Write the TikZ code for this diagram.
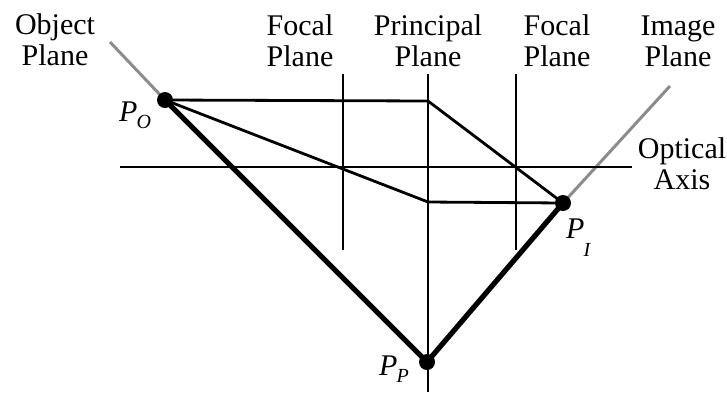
\documentclass[tikz,border=0pt]{standalone}
\usepackage{fontspec}
\setmainfont{Liberation Serif}
\newcommand\labsub[3]{\textit{#1}\kern-1pt\raisebox{-#3pt}{\fontsize{20}{20}\selectfont\textit{#2}}}
\begin{document}
\begin{tikzpicture}[x=1pt,y=-1pt,
  thin line/.style={line width=2.8pt},
  thick line/.style={line width=5.2pt,line cap=round},
  gray line/.style={line width=3pt,draw=black!45},
  dot/.style={circle,fill=black,inner sep=0pt,minimum size=16pt},
  lab/.style={font=\fontsize{30}{30.5}\selectfont,align=center,inner sep=0pt,anchor=north},
  plab/.style={font=\fontsize{30}{31}\selectfont,inner sep=0pt,anchor=base west}]
\useasboundingbox (0,0) rectangle (727,392);
% points
\coordinate (PO) at (165,100);
\coordinate (PI) at (563,203);
\coordinate (PP) at (427,362);
\coordinate (A) at (428,101);
\coordinate (B) at (428,202);
\coordinate (ObjEnd) at (110,42);
\coordinate (ImgEnd) at (670,86);
\coordinate (AxL) at (120,167);
\coordinate (AxR) at (632,167);
\coordinate (PrT) at (428,74);
\coordinate (PrB) at (428,392);
\coordinate (F1T) at (343,74);
\coordinate (F1B) at (343,250);
\coordinate (F2T) at (516,74);
\coordinate (F2B) at (516,250);
% gray planes
\draw[gray line] (ObjEnd) -- (PO);
\draw[gray line] (PI) -- (ImgEnd);
% axes and planes
\draw[thin line] (AxL) -- (AxR);
\draw[thin line] (PrT) -- (PrB);
\draw[thin line] (F1T) -- (F1B);
\draw[thin line] (F2T) -- (F2B);
% rays
\draw[thin line,line join=round] (PO) -- (A) -- (PI);
\draw[thin line,line join=round] (PO) -- (B) -- (PI);
\draw[thick line] (PO) -- (PP) -- (PI);
% dots
\node[dot] (dPO) at (PO) {};
\node[dot] (dPI) at (PI) {};
\node[dot] (dPP) at (PP) {};
% labels
\node[lab] (lobj) at (55,13) {\strut Object\\Plane};
\node[lab] (lf1) at (300,14) {\strut Focal\\Plane};
\node[lab] (lpr) at (428,14) {\strut Principal\\Plane};
\node[lab] (lf2) at (557,14) {\strut Focal\\Plane};
\node[lab] (limg) at (678,14) {\strut Image\\Plane};
\node[lab] (lopt) at (682,137) {\strut Optical\\Axis};
\node[plab] (lPO) at (119,121) {\labsub{P}{O}{7}};
\node[plab] (lPI) at (566,238) {\labsub{P}{I}{18}};
\node[plab] (lPP) at (379,375) {\labsub{P}{P}{7}};
\end{tikzpicture}
\end{document}
